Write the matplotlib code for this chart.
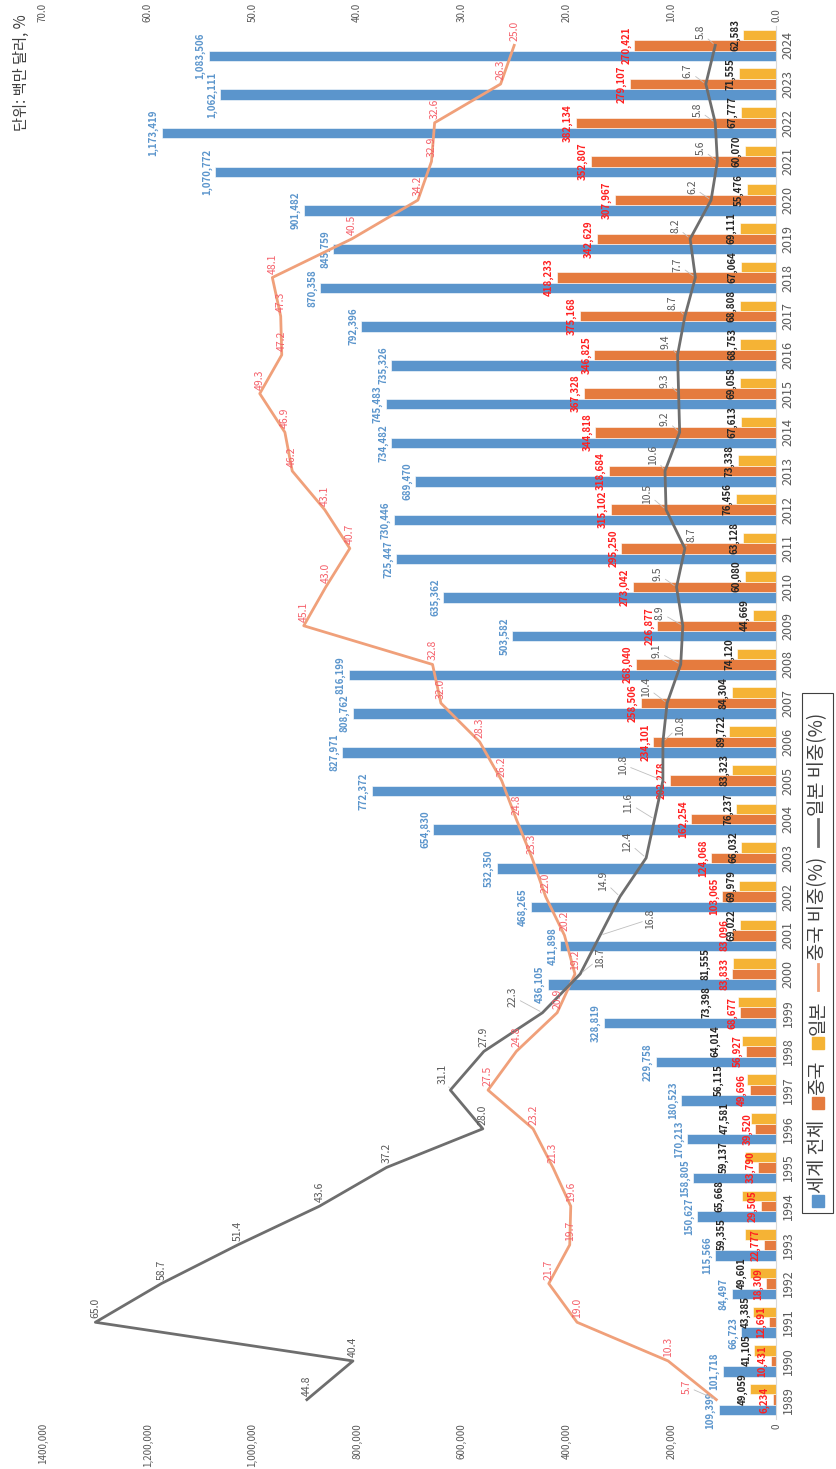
import numpy as np
import matplotlib.pyplot as plt
from matplotlib.patches import Rectangle
from matplotlib.lines import Line2D

plt.rcParams['font.family'] = ['Noto Sans CJK KR', 'DejaVu Sans']

years = list(range(1989, 2025))
world = [109399, 101718, 66723, 84497, 115566, 150627, 158805, 170213, 180523, 229758,
         328819, 436105, 411898, 468265, 532350, 654830, 772372, 827971, 808762, 816199,
         503582, 635362, 725447, 730446, 689470, 734482, 745483, 735326, 792396, 870358,
         845759, 901482, 1070772, 1173419, 1062111, 1083506]
china = [6234, 10431, 12691, 18309, 22777, 29505, 33790, 39520, 49696, 56927,
         68677, 83833, 83096, 103065, 124068, 162254, 202278, 234101, 258506, 268040,
         226877, 273042, 295250, 315102, 318684, 344818, 367328, 346825, 375168, 418233,
         342629, 307967, 352807, 382134, 279107, 270421]
japan = [49059, 41105, 43385, 49601, 59355, 65668, 59137, 47581, 56115, 64014,
         73398, 81555, 69022, 69979, 66032, 76237, 83323, 89722, 84304, 74120,
         44669, 60080, 63128, 76456, 73338, 67613, 69058, 68753, 68808, 67064,
         69111, 55476, 60070, 67777, 71555, 62583]
china_share = [5.7, 10.3, 19.0, 21.7, 19.7, 19.6, 21.3, 23.2, 27.5, 24.8,
               20.9, 19.2, 20.2, 22.0, 23.3, 24.8, 26.2, 28.3, 32.0, 32.8,
               45.1, 43.0, 40.7, 43.1, 46.2, 46.9, 49.3, 47.2, 47.3, 48.1,
               40.5, 34.2, 32.9, 32.6, 26.3, 25.0]
japan_share = [44.8, 40.4, 65.0, 58.7, 51.4, 43.6, 37.2, 28.0, 31.1, 27.9,
               22.3, 18.7, 16.8, 14.9, 12.4, 11.6, 10.8, 10.8, 10.4, 9.1,
               8.9, 9.5, 8.7, 10.5, 10.6, 9.2, 9.3, 9.4, 8.7, 7.7,
               8.2, 6.2, 5.6, 5.8, 6.7, 5.8]
left_ticks = ['0', '200,000', '400,000', '600,000', '800,000', '1,000,000', '1,200,000', '1400,000']
right_ticks = ['0.0', '10.0', '20.0', '30.0', '40.0', '50.0', '60.0', '70.0']
legend_names = ['세계 전체', '중국', '일본', '중국 비중(%)', '일본 비중(%)']

# label shifts (pixels, sideways) where the original moved a label
jp_shift = [0, 0, 0, 0, 0, 0, 0, 0, -8, 0,
            -30, 20, 50, -17, -19, -26, -40, 17, -21, -24,
            -23, -19, 7, -19, -12, -15, -14, -12, -12, -18,
            -15, -19, -17, -18, -18, -15]
cn_shift = [-30] + [0] * 35
jp_bar_shift = [0, 0, 0, 0, -15, -14, -13, -18, -20, -19, -23, -20] + [0] * 24

c_world = '#5B95CC'
c_china = '#E57B3E'
c_japan = '#F5B335'
c_cline = '#F0A07A'
c_jline = '#6E6E6E'
grey = '#595959'

W, H = 836, 1469
fig = plt.figure(figsize=(W / 100, H / 100), dpi=100)
ax = fig.add_axes([43 / W, 50 / H, 733 / W, 1393 / H])

pos = np.arange(len(years))
bh = 0.27
ax.barh(pos - bh, world, height=bh, color=c_world, edgecolor='white', linewidth=0.4)
ax.barh(pos, china, height=bh, color=c_china, edgecolor='white', linewidth=0.4)
ax.barh(pos + bh, japan, height=bh, color=c_japan, edgecolor='white', linewidth=0.4)

ax.set_xlim(1400000, 0)
ax.set_ylim(-0.5, len(years) - 0.5)
ax.set_xticks(range(0, 1400001, 200000))
ax.set_xticklabels(left_ticks, rotation=90)
ax.tick_params(axis='x', length=0, labelsize=7, labelcolor=grey, pad=3)
ax.set_yticks(pos)
ax.set_yticklabels(years, rotation=90, va='center')
ax.yaxis.tick_right()
ax.tick_params(axis='y', length=0, labelsize=9, labelcolor=grey, pad=4)
for s in ax.spines.values():
    s.set_visible(False)
ax.spines['right'].set_visible(True)
ax.spines['right'].set_color('#D9D9D9')

for i in range(len(years)):
    ax.annotate(f'{world[i]:,}', (world[i], pos[i] - bh), xytext=(-3, 0), textcoords='offset pixels',
                rotation=90, ha='right', va='center', fontsize=7, fontweight='bold', color=c_world)
    ax.annotate(f'{china[i]:,}', (china[i], pos[i]), xytext=(-3, 0), textcoords='offset pixels',
                rotation=90, ha='right', va='center', fontsize=7, fontweight='bold', color='#FF2020')
    ax.annotate(f'{japan[i]:,}', (japan[i], pos[i] + bh), xytext=(-3 + jp_bar_shift[i], 0),
                textcoords='offset pixels', rotation=90, ha='right', va='center', fontsize=7,
                fontweight='bold', color='#262626')

ax2 = ax.twiny()
ax2.set_xlim(70, 0)
ax2.set_xticks(range(0, 71, 10))
ax2.set_xticklabels(right_ticks, rotation=90)
ax2.tick_params(axis='x', length=0, labelsize=7, labelcolor=grey, pad=3)
for s in ax2.spines.values():
    s.set_visible(False)
ax2.plot(china_share, pos, color=c_cline, lw=2)
ax2.plot(japan_share, pos, color=c_jline, lw=2)

for i in range(len(years)):
    for val, sh, col in ((china_share[i], cn_shift[i], '#F5606A'), (japan_share[i], jp_shift[i], grey)):
        arrow = dict(arrowstyle='-', color='#BFBFBF', lw=0.6, shrinkA=0, shrinkB=2) if sh else None
        ax2.annotate(f'{val:.1f}', (val, pos[i]), xytext=(sh, 6 if sh else 4), textcoords='offset pixels',
                     rotation=90, ha='center', va='bottom', fontsize=7.5, color=col, arrowprops=arrow)

# title
fig.text(21 / W, 1 - 131 / H, '단위: 백만 달러, %', rotation=90, ha='center', va='bottom',
         fontsize=11, color='#404040')

# legend, drawn by hand because it is turned on its side
def fx(x):
    return x / W

def fy(y):
    return 1 - y / H

fig.patches.append(Rectangle((fx(802), fy(1213)), 31 / W, 520 / H, transform=fig.transFigure,
                             fill=False, edgecolor='#404040', lw=0.8))
lx = 818
y = 1207
for k, name in enumerate(legend_names):
    if k < 3:
        col = [c_world, c_china, c_japan][k]
        fig.patches.append(Rectangle((fx(lx - 6), fy(y)), 12 / W, 12 / H, transform=fig.transFigure,
                                     color=col))
        y -= 14
    else:
        col = [c_cline, c_jline][k - 3]
        fig.lines.append(Line2D([fx(lx), fx(lx)], [fy(y), fy(y - 26)], transform=fig.transFigure,
                                color=col, lw=2))
        y -= 30
    t = fig.text(fx(lx), fy(y), name, rotation=90, ha='center', va='bottom', fontsize=13.5, color='#404040')
    fig.canvas.draw()
    bb = t.get_window_extent()
    y -= bb.height + 11

fig.savefig('out.png', dpi=100)
